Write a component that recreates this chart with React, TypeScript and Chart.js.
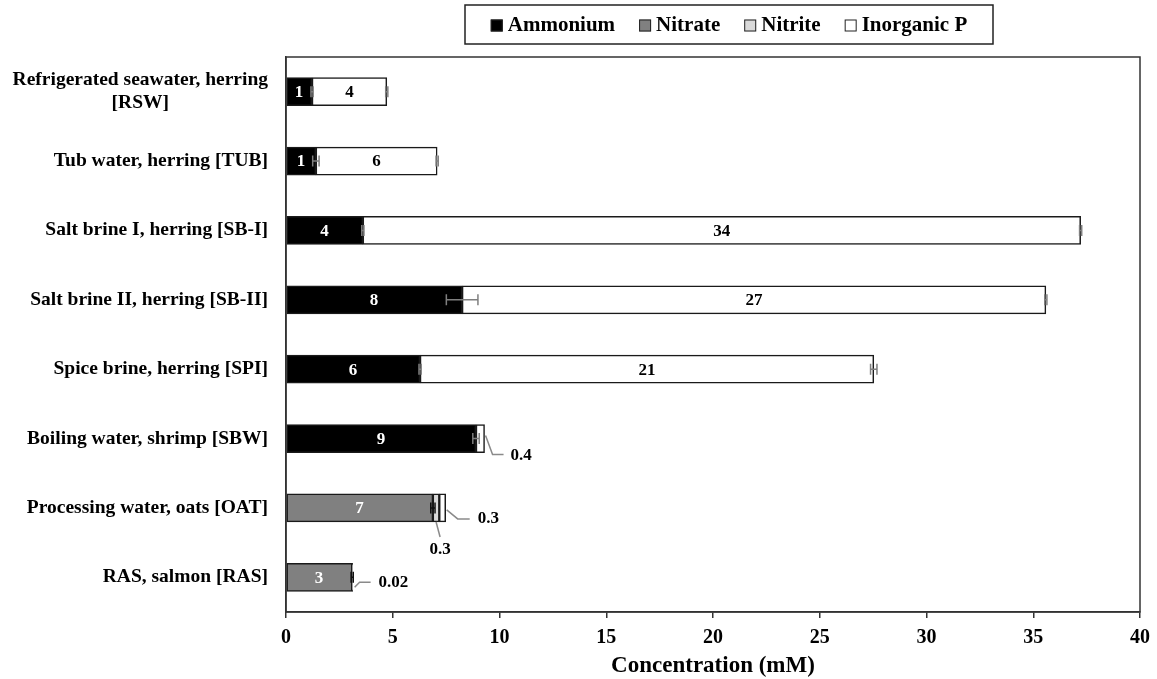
import { useEffect, useRef } from "react";
import { Chart, registerables } from "chart.js";

Chart.register(...registerables);

// ---------- data ----------
const categories: (string | string[])[] = [
  ["Refrigerated seawater, herring", "[RSW]"],
  "Tub water, herring [TUB]",
  "Salt brine I, herring [SB-I]",
  "Salt brine II, herring [SB-II]",
  "Spice brine, herring [SPI]",
  "Boiling water, shrimp [SBW]",
  "Processing water, oats [OAT]",
  "RAS, salmon [RAS]",
];
const seriesNames = ["Ammonium", "Nitrate", "Nitrite", "Inorganic P"];
const ammonium = [1.22, 1.4, 3.6, 8.25, 6.28, 8.9, 0, 0];
const nitrate = [0, 0, 0, 0, 0, 0, 6.88, 3.1];
const nitrite = [0, 0, 0, 0, 0, 0, 0.3, 0.02];
const inorganicP = [3.5, 5.68, 33.62, 27.34, 21.25, 0.4, 0.3, 0];
const ammoniumErr = [0.05, 0.15, 0.05, 0.74, 0.05, 0.15, 0, 0];
const nitrateErr = [0, 0, 0, 0, 0, 0, 0.1, 0.05];
const nitriteErr = [0, 0, 0, 0, 0, 0, 0, 0];
const inorganicPErr = [0.05, 0.05, 0.05, 0.05, 0.15, 0, 0, 0];
const xTickValues = [0, 5, 10, 15, 20, 25, 30, 35, 40];
const xTitle = "Concentration (mM)";

// ---------- styles ----------
const FONT = "'Liberation Serif', 'Times New Roman', serif";
const fills = ["#000000", "#808080", "#d9d9d9", "#ffffff"];
const labelColors = ["#ffffff", "#ffffff", "#000000", "#000000"];
const errColors = ["#7f7f7f", "#111111", "#555555", "#7f7f7f"];
const seriesValues = [ammonium, nitrate, nitrite, inorganicP];
const seriesErrs = [ammoniumErr, nitrateErr, nitriteErr, inorganicPErr];

// callouts for small segments: offsets relative to anchor (styling only)
const callouts = [
  { ds: 3, idx: 5, anchor: "end", path: [[1, -3], [8, 16], [19, 16]], label: [26, 17], align: "left" },
  { ds: 3, idx: 6, anchor: "end", path: [[1, 2], [12, 11], [24, 11]], label: [32, 11], align: "left" },
  { ds: 2, idx: 6, anchor: "center", path: [[0, 14], [4, 29]], label: [4, 42], align: "center" },
  { ds: 2, idx: 7, anchor: "end", path: [[2, 10], [7, 5], [18, 5]], label: [26, 5], align: "left" },
];

function cumEnd(ds: number, idx: number) {
  let s = 0;
  for (let k = 0; k <= ds; k++) s += seriesValues[k][idx];
  return s;
}

const customPlugin = {
  id: "custom",
  afterDatasetsDraw(chart: any) {
    const ctx = chart.ctx;
    const xs = chart.scales.x;
    const ys = chart.scales.y;
    ctx.save();
    // error bars
    seriesErrs.forEach((errs, ds) => {
      errs.forEach((e, i) => {
        if (!e || !seriesValues[ds][i]) return;
        const end = cumEnd(ds, i);
        const y = ys.getPixelForValue(i);
        const x0 = xs.getPixelForValue(end - e);
        const x1 = xs.getPixelForValue(end + e);
        ctx.strokeStyle = errColors[ds];
        ctx.lineWidth = 1.5;
        ctx.beginPath();
        ctx.moveTo(x0, y);
        ctx.lineTo(x1, y);
        ctx.moveTo(x0, y - 5.5);
        ctx.lineTo(x0, y + 5.5);
        ctx.moveTo(x1, y - 5.5);
        ctx.lineTo(x1, y + 5.5);
        ctx.stroke();
      });
    });
    // value labels
    ctx.font = `bold 17px ${FONT}`;
    ctx.textBaseline = "middle";
    ctx.textAlign = "center";
    seriesValues.forEach((vals, ds) => {
      vals.forEach((v, i) => {
        if (v < 1) return;
        const start = cumEnd(ds, i) - v;
        const xc = (xs.getPixelForValue(start) + xs.getPixelForValue(start + v)) / 2;
        const y = ys.getPixelForValue(i);
        ctx.fillStyle = labelColors[ds];
        ctx.fillText(String(Math.round(v)), xc, y + 1);
      });
    });
    // callouts
    callouts.forEach((c) => {
      const v = seriesValues[c.ds][c.idx];
      const end = cumEnd(c.ds, c.idx);
      const y = ys.getPixelForValue(c.idx);
      const ax =
        c.anchor === "end"
          ? xs.getPixelForValue(end)
          : (xs.getPixelForValue(end - v) + xs.getPixelForValue(end)) / 2;
      ctx.strokeStyle = "#8a8a8a";
      ctx.lineWidth = 1.5;
      ctx.beginPath();
      c.path.forEach(([dx, dy], k) => {
        if (k === 0) ctx.moveTo(ax + dx, y + dy);
        else ctx.lineTo(ax + dx, y + dy);
      });
      ctx.stroke();
      ctx.fillStyle = "#000";
      ctx.textAlign = c.align as CanvasTextAlign;
      ctx.fillText(String(v), ax + c.label[0], y + c.label[1]);
    });
    ctx.restore();
  },
  afterDraw(chart: any) {
    const ctx = chart.ctx;
    const ca = chart.chartArea;
    const ys = chart.scales.y;
    ctx.save();
    // plot frame
    ctx.strokeStyle = "#333";
    ctx.lineWidth = 1.5;
    ctx.strokeRect(ca.left, ca.top, ca.right - ca.left, ca.bottom - ca.top);
    // category labels
    ctx.font = `bold 19.5px ${FONT}`;
    ctx.fillStyle = "#000";
    ctx.textBaseline = "middle";
    ctx.textAlign = "center";
    const right = ca.left - 18;
    categories.forEach((lab, i) => {
      const lines = Array.isArray(lab) ? lab : [lab];
      const maxW = Math.max(...lines.map((l) => ctx.measureText(l).width));
      const cy = ys.getPixelForValue(i);
      lines.forEach((l, j) => {
        ctx.fillText(l, right - maxW / 2, cy + (j - (lines.length - 1) / 2) * 23);
      });
    });
    // legend
    const boxL = 457, boxR = 985, boxT = 5, boxB = 44;
    ctx.font = `bold 21px ${FONT}`;
    const sq = 12, gapSq = 5, gapItem = 24;
    const widths = seriesNames.map((n) => sq + gapSq + ctx.measureText(n).width);
    const total = widths.reduce((a, b) => a + b, 0) + gapItem * (seriesNames.length - 1);
    let x = (boxL + boxR) / 2 - total / 2;
    const cy = (boxT + boxB) / 2 + 1;
    ctx.fillStyle = "#fff";
    ctx.fillRect(boxL, boxT, boxR - boxL, boxB - boxT);
    ctx.strokeStyle = "#222";
    ctx.lineWidth = 1.5;
    ctx.strokeRect(boxL, boxT, boxR - boxL, boxB - boxT);
    ctx.textAlign = "left";
    seriesNames.forEach((n, k) => {
      ctx.fillStyle = fills[k];
      ctx.fillRect(x, cy - sq / 2, sq, sq);
      ctx.strokeStyle = "#222";
      ctx.lineWidth = 1;
      ctx.strokeRect(x + 0.5, cy - sq / 2 + 0.5, sq - 1, sq - 1);
      ctx.fillStyle = "#000";
      ctx.fillText(n, x + sq + gapSq, cy);
      x += widths[k] + gapItem;
    });
    ctx.restore();
  },
};

export default function App() {
  const ref = useRef<HTMLCanvasElement>(null);
  useEffect(() => {
    const chart = new Chart(ref.current as HTMLCanvasElement, {
      type: "bar",
      data: {
        labels: categories as any,
        datasets: seriesNames.map((name, k) => ({
          label: name,
          data: seriesValues[k].map((v) => (v ? v : null)),
          backgroundColor: fills[k],
          borderColor: "#1a1a1a",
          borderWidth: 1.5,
          borderSkipped: false,
          barThickness: 28,
        })) as any,
      },
      options: {
        indexAxis: "y",
        responsive: false,
        animation: false,
        devicePixelRatio: 1,
        layout: { padding: { top: 57, right: 17, left: 0, bottom: 0 } },
        plugins: { legend: { display: false }, tooltip: { enabled: false } },
        scales: {
          x: {
            type: "linear",
            stacked: true,
            min: 0,
            max: 40,
            afterBuildTicks: (s: any) => {
              s.ticks = xTickValues.map((v) => ({ value: v }));
            },
            ticks: {
              font: { family: FONT, size: 20, weight: "bold" },
              color: "#000",
              padding: 7.5,
            },
            grid: { drawOnChartArea: false, drawTicks: true, tickLength: 6, color: "#333", lineWidth: 1.5 },
            border: { display: true, color: "#333", width: 1.5 },
            title: {
              display: true,
              text: xTitle,
              font: { family: FONT, size: 23, weight: "bold", lineHeight: 1 },
              color: "#000",
              padding: { top: 0, bottom: 1 },
            },
            afterFit: (s: any) => {
              s.height = 67;
              s.paddingRight = 0;
              s.paddingLeft = 0;
            },
          },
          y: {
            type: "category",
            stacked: true,
            ticks: { display: false },
            grid: { display: false },
            border: { display: true, color: "#333", width: 1.5 },
            afterFit: (s: any) => {
              s.width = 278;
            },
          },
        },
      } as any,
      plugins: [customPlugin],
    });
    return () => chart.destroy();
  }, []);
  return (
    <div style={{ position: "fixed", top: 0, left: 8 }}>
      <canvas ref={ref} width={1149} height={679} style={{ display: "block" }} />
    </div>
  );
}
